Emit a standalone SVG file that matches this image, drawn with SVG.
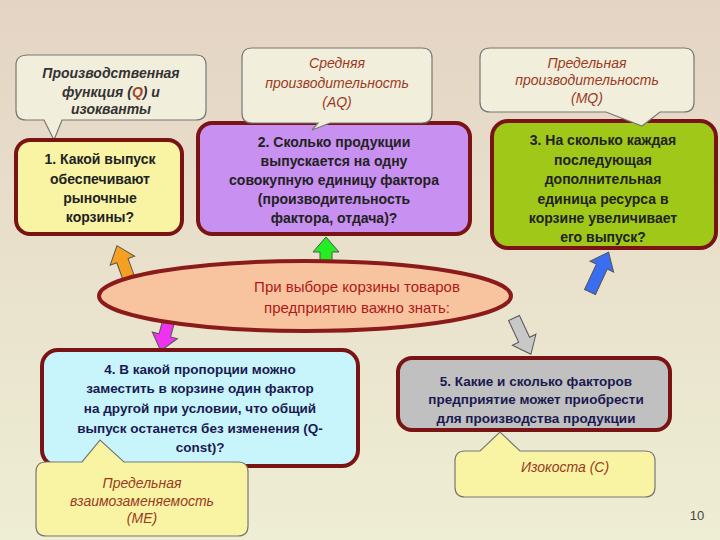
<svg xmlns="http://www.w3.org/2000/svg" width="720" height="540" viewBox="0 0 720 540">
<defs>
<linearGradient id="bg" x1="0" y1="0" x2="0" y2="1"><stop offset="0" stop-color="#e4d4c4"/><stop offset="1" stop-color="#eeeed4"/></linearGradient>
<style>
text{font-family:"Liberation Sans",Arial,sans-serif;text-anchor:middle}
.co{fill:#f2eedc;stroke:#777;stroke-width:1.2}
.coy{fill:#f8f4a4;stroke:#777;stroke-width:1.2}
.bx{stroke:#7a1414;stroke-width:4}
.q{font-size:14px;font-weight:bold;fill:#222}
.qn{font-size:13.5px;font-weight:bold;fill:#1a1a50}
.ci{font-size:14px;font-style:italic;font-weight:bold;fill:#333}
.cr{font-size:14px;font-style:italic;fill:#9a3a22}
.ar{stroke:#555;stroke-width:1}
</style>
</defs>
<rect width="720" height="540" fill="url(#bg)"/>
<g id="connectors">
<polygon class="ar" fill="#f5a020" transform="translate(132,287) rotate(-20)" points="-6,0 -6,-28 -13,-28 0,-44 13,-28 6,-28 6,0"/>
<polygon class="ar" fill="#22ee22" transform="translate(326,270)" points="-6,0 -6,-18 -13,-18 0,-33 13,-18 6,-18 6,0"/>
<polygon class="ar" fill="#3a6ef0" transform="translate(590,292) rotate(25)" points="-6,0 -6,-28 -13,-28 0,-44 13,-28 6,-28 6,0"/>
<polygon class="ar" fill="#ee33ee" transform="translate(170,316) rotate(195)" points="-6,0 -6,-20 -13,-20 0,-36 13,-20 6,-20 6,0"/>
<polygon class="ar" fill="#c8c8c8" transform="translate(514,318) rotate(155)" points="-6,0 -6,-24 -13,-24 0,-40 13,-24 6,-24 6,0"/>
</g>
<g id="callout-q">
<path class="co" d="M28,55 H196 Q206,55 206,65 V110 Q206,120 196,120 H62 L54,140 L44,120 H26 Q16,120 16,110 V65 Q16,55 28,55 Z"/>
<text class="ci" x="111" y="78">Производственная</text>
<text class="ci" x="111" y="97">функция (<tspan fill="#a0442c">Q</tspan>) и</text>
<text class="ci" x="111" y="114">изокванты</text>
</g>
<g id="box1">
<rect class="bx" x="16" y="140" width="166" height="94" rx="14" fill="#f8f4a4"/>
<text class="q" x="100" y="164">1. Какой выпуск</text>
<text class="q" x="100" y="184">обеспечивают</text>
<text class="q" x="100" y="203">рыночные</text>
<text class="q" x="100" y="222">корзины?</text>
</g>
<g id="box2">
<rect class="bx" x="198" y="123" width="272" height="111" rx="14" fill="#c890f0"/>
<text class="q" x="334" y="147">2. Сколько продукции</text>
<text class="q" x="334" y="166">выпускается на одну</text>
<text class="q" x="334" y="185">совокупную единицу фактора</text>
<text class="q" x="334" y="204">(производительность</text>
<text class="q" x="334" y="223">фактора, отдача)?</text>
</g>
<g id="callout-aq">
<path class="co" d="M252,48 H422 Q432,48 432,58 V113 Q432,123 422,123 H330 L312,130 L318,123 H252 Q242,123 242,113 V58 Q242,48 252,48 Z"/>
<text class="cr" x="337" y="68">Средняя</text>
<text class="cr" x="337" y="88">производительность</text>
<text class="cr" x="337" y="107">(AQ)</text>
</g>
<g id="box3">
<rect class="bx" x="492" y="121" width="224" height="127" rx="16" fill="#a0c818"/>
<text class="q" x="603" y="145">3. На сколько каждая</text>
<text class="q" x="603" y="165">последующая</text>
<text class="q" x="603" y="184">дополнительная</text>
<text class="q" x="603" y="204">единица ресурса в</text>
<text class="q" x="603" y="223">корзине увеличивает</text>
<text class="q" x="603" y="242">его выпуск?</text>
</g>
<g id="callout-mq">
<path class="co" d="M490,48 H684 Q694,48 694,58 V102 Q694,112 684,112 H660 L642,126 L606,112 H490 Q480,112 480,102 V58 Q480,48 490,48 Z"/>
<text class="cr" x="587" y="68">Предельная</text>
<text class="cr" x="587" y="85">производительность</text>
<text class="cr" x="587" y="103">(MQ)</text>
</g>
<g id="center">
<ellipse cx="305" cy="296" rx="206" ry="35" fill="#f8c4a0" stroke="#8b1a1a" stroke-width="4"/>
<text x="357" y="292" font-size="15" fill="#b01818">При выборе корзины товаров</text>
<text x="357" y="313" font-size="15" fill="#b01818">предприятию важно знать:</text>
</g>
<g id="box4">
<rect class="bx" x="42" y="350" width="316" height="116" rx="16" fill="#c8f4fc"/>
<text class="qn" x="200" y="374">4. В какой пропорции можно</text>
<text class="qn" x="200" y="393">заместить в корзине один фактор</text>
<text class="qn" x="200" y="413">на другой при условии, что общий</text>
<text class="qn" x="200" y="433">выпуск останется без изменения (Q-</text>
<text class="qn" x="200" y="452">const)?</text>
</g>
<g id="callout-me">
<path class="coy" d="M46,462 H82 L100,440 L124,462 H238 Q248,462 248,472 V526 Q248,536 238,536 H46 Q36,536 36,526 V472 Q36,462 46,462 Z"/>
<text class="cr" x="142" y="488" fill="#7a4a10">Предельная</text>
<text class="cr" x="142" y="506" fill="#7a4a10">взаимозаменяемость</text>
<text class="cr" x="142" y="523" fill="#7a4a10">(ME)</text>
</g>
<g id="box5">
<rect class="bx" x="398" y="358" width="272" height="72" rx="14" fill="#c0c0c0"/>
<text class="qn" x="536" y="386">5. Какие и сколько факторов</text>
<text class="qn" x="536" y="404">предприятие может приобрести</text>
<text class="qn" x="536" y="423">для производства продукции</text>
</g>
<g id="callout-c">
<path class="coy" d="M465,451 H480 L500,432 L520,451 H645 Q655,451 655,461 V487 Q655,497 645,497 H465 Q455,497 455,487 V461 Q455,451 465,451 Z"/>
<text class="cr" x="565" y="472" fill="#7a4a10">Изокоста (С)</text>
</g>
<text x="697" y="520" font-size="13" fill="#444">10</text>
</svg>
